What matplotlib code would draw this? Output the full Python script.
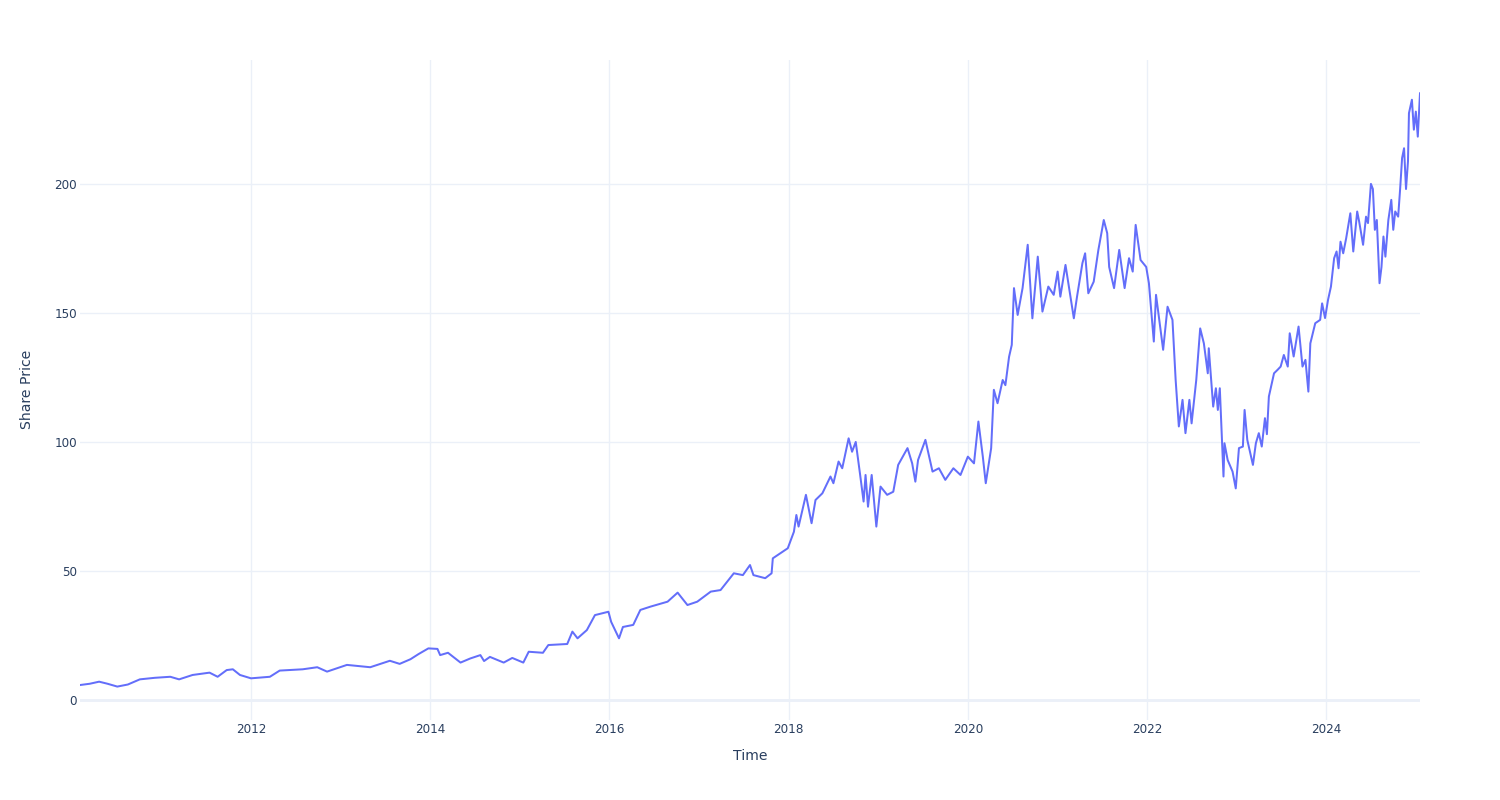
import matplotlib
matplotlib.use("Agg")
import matplotlib.pyplot as plt
import matplotlib.dates as mdates
import pandas as pd

dates = [
    "2010-02-03", "2010-03-15", "2010-04-22", "2010-05-26", "2010-07-05", "2010-08-17",
    "2010-10-05", "2010-12-05", "2011-02-06", "2011-03-14", "2011-05-08", "2011-07-16",
    "2011-08-18", "2011-09-24", "2011-10-19", "2011-11-17", "2012-01-01", "2012-03-18",
    "2012-04-27", "2012-07-30", "2012-09-27", "2012-11-06", "2013-01-26", "2013-05-01",
    "2013-07-20", "2013-08-29", "2013-10-12", "2013-11-14", "2013-12-24", "2014-01-30",
    "2014-02-10", "2014-03-14", "2014-05-04", "2014-06-13", "2014-07-24", "2014-08-08",
    "2014-09-01", "2014-10-27", "2014-12-01", "2015-01-15", "2015-02-06", "2015-04-05",
    "2015-04-27", "2015-07-13", "2015-08-03", "2015-08-24", "2015-10-01", "2015-11-03",
    "2015-12-28", "2016-01-08", "2016-02-09", "2016-02-25", "2016-04-07", "2016-05-06",
    "2016-06-17", "2016-08-25", "2016-10-05", "2016-11-14", "2016-12-24", "2017-02-17",
    "2017-03-29", "2017-05-22", "2017-06-28", "2017-07-27", "2017-08-10", "2017-09-27",
    "2017-10-23", "2017-10-28", "2017-11-28", "2017-12-28", "2018-01-22", "2018-02-01",
    "2018-02-10", "2018-03-12", "2018-04-04", "2018-04-20", "2018-05-18", "2018-06-20",
    "2018-07-02", "2018-07-23", "2018-08-07", "2018-09-02", "2018-09-16", "2018-10-01",
    "2018-10-19", "2018-11-02", "2018-11-10", "2018-11-20", "2018-12-05", "2018-12-24",
    "2019-01-10", "2019-02-06", "2019-03-03", "2019-03-23", "2019-04-30", "2019-05-19",
    "2019-06-01", "2019-06-12", "2019-07-12", "2019-08-10", "2019-09-05", "2019-10-01",
    "2019-11-03", "2019-12-02", "2020-01-01", "2020-01-26", "2020-02-13", "2020-03-02",
    "2020-03-14", "2020-04-05", "2020-04-16", "2020-05-01", "2020-05-22", "2020-06-02",
    "2020-06-17", "2020-06-28", "2020-07-07", "2020-07-22", "2020-08-11", "2020-09-01",
    "2020-09-20", "2020-10-12", "2020-10-31", "2020-11-24", "2020-12-16", "2021-01-01",
    "2021-01-12", "2021-02-02", "2021-03-08", "2021-03-21", "2021-04-12", "2021-04-23",
    "2021-05-06", "2021-05-28", "2021-06-16", "2021-07-08", "2021-07-22", "2021-07-30",
    "2021-08-19", "2021-09-09", "2021-10-01", "2021-10-19", "2021-11-03", "2021-11-15",
    "2021-12-05", "2021-12-28", "2022-01-08", "2022-01-28", "2022-02-06", "2022-02-23",
    "2022-03-07", "2022-03-25", "2022-04-14", "2022-04-27", "2022-05-10", "2022-05-25",
    "2022-06-06", "2022-06-22", "2022-07-01", "2022-07-20", "2022-08-05", "2022-08-20",
    "2022-09-05", "2022-09-09", "2022-09-27", "2022-10-08", "2022-10-16", "2022-10-24",
    "2022-11-01", "2022-11-08", "2022-11-12", "2022-11-25", "2022-12-15", "2022-12-28",
    "2023-01-10", "2023-01-26", "2023-02-02", "2023-02-13", "2023-03-08", "2023-03-20",
    "2023-04-01", "2023-04-13", "2023-04-26", "2023-05-04", "2023-05-12", "2023-06-02",
    "2023-06-17", "2023-06-29", "2023-07-12", "2023-07-28", "2023-08-05", "2023-08-21",
    "2023-09-10", "2023-09-26", "2023-10-08", "2023-10-20", "2023-10-28", "2023-11-17",
    "2023-12-07", "2023-12-15", "2023-12-27", "2024-01-08", "2024-01-20", "2024-02-02",
    "2024-02-12", "2024-02-20", "2024-02-28", "2024-03-10", "2024-03-22", "2024-04-08",
    "2024-04-20", "2024-05-06", "2024-05-14", "2024-05-30", "2024-06-11", "2024-06-19",
    "2024-07-01", "2024-07-09", "2024-07-17", "2024-07-25", "2024-08-05", "2024-08-13",
    "2024-08-21", "2024-08-29", "2024-09-10", "2024-09-22", "2024-09-30", "2024-10-08",
    "2024-10-20", "2024-10-28", "2024-11-05", "2024-11-13", "2024-11-21", "2024-11-29",
    "2024-12-03", "2024-12-15", "2024-12-23", "2024-12-31", "2025-01-08", "2025-01-17",
]

prices = [
    5.8, 6.3, 7.1, 6.3, 5.2, 6.0,
    8.0, 8.6, 9.0, 8.0, 9.7, 10.6,
    9.0, 11.6, 11.9, 9.7, 8.4, 9.0,
    11.4, 11.9, 12.7, 11.0, 13.6, 12.7,
    15.2, 14.0, 15.8, 17.8, 20.0, 19.8,
    17.4, 18.3, 14.5, 16.1, 17.4, 15.1,
    16.7, 14.5, 16.3, 14.5, 18.7, 18.3,
    21.3, 21.7, 26.5, 23.9, 27.1, 32.9,
    34.2, 30.3, 23.9, 28.3, 29.1, 34.9,
    36.2, 38.1, 41.6, 36.8, 38.1, 42.0,
    42.6, 49.1, 48.4, 52.3, 48.4, 47.2,
    49.1, 54.9, 56.9, 58.8, 65.2, 71.7,
    67.2, 79.5, 68.5, 77.5, 80.1, 86.6,
    84.0, 92.4, 89.8, 101.4, 96.2, 100.0,
    87.2, 76.9, 87.2, 74.9, 87.2, 67.2,
    82.7, 79.5, 80.7, 91.1, 97.6, 91.7,
    84.6, 93.0, 100.8, 88.5, 89.8, 85.3,
    89.8, 87.2, 94.3, 91.7, 107.9, 94.3,
    84.0, 97.6, 120.2, 115.0, 124.0, 122.0,
    133.0, 137.6, 159.6, 149.2, 159.6, 176.4,
    147.9, 171.8, 150.5, 160.2, 157.0, 166.0,
    156.3, 168.6, 147.9, 156.3, 169.3, 173.1,
    157.6, 162.1, 174.4, 186.0, 180.9, 167.8,
    159.6, 174.4, 159.6, 171.2, 166.0, 184.1,
    170.5, 167.8, 161.5, 138.9, 157.0, 144.7,
    135.7, 152.4, 147.3, 124.0, 106.0, 116.3,
    103.4, 116.3, 107.2, 124.0, 144.0, 138.2,
    126.6, 136.3, 113.7, 120.8, 112.4, 120.8,
    102.7, 86.6, 99.5, 93.0, 88.5, 82.0,
    97.6, 98.2, 112.4, 100.8, 91.1, 99.5,
    103.4, 98.2, 109.2, 103.0, 117.6, 126.6,
    128.0, 129.2, 133.7, 129.2, 142.1, 133.1,
    144.7, 129.2, 131.8, 119.5, 138.2, 146.0,
    147.3, 153.7, 148.0, 155.0, 160.2, 171.2,
    173.8, 167.3, 177.6, 173.1, 178.9, 188.6,
    173.8, 189.3, 185.4, 176.4, 187.3, 184.8,
    200.0, 198.0, 182.2, 186.0, 161.5, 167.8,
    179.6, 171.8, 186.0, 193.8, 182.2, 189.3,
    187.3, 198.0, 210.0, 213.8, 198.0, 208.7,
    227.4, 232.6, 221.0, 228.0, 218.3, 235.1,
]

x_tick_years = [2012, 2014, 2016, 2018, 2020, 2022, 2024]
y_ticks = [0, 50, 100, 150, 200]

x = pd.to_datetime(dates)

TXT = "#2a3f5f"
GRID = "#EBF0F8"
px = 72 / 100  # points per pixel at dpi 100

fig = plt.figure(figsize=(15, 8), dpi=100)
ax = fig.add_axes([80 / 1500, 80 / 800, 1340 / 1500, 660 / 800])

ax.plot(x, prices, color="#636EFA", linewidth=2 * px, zorder=3)

ax.set_xlim(x[0], x[-1])
ax.set_ylim(-7.75, 248)

ax.set_xticks([pd.Timestamp(f"{yr}-01-01") for yr in x_tick_years])
ax.xaxis.set_major_formatter(mdates.DateFormatter("%Y"))
ax.set_yticks(y_ticks)

ax.grid(True, color=GRID, linewidth=1, zorder=0)
ax.axhline(0, color=GRID, linewidth=2, zorder=1)
for s in ax.spines.values():
    s.set_visible(False)
ax.tick_params(axis="both", length=0, labelsize=12 * px, labelcolor=TXT)
ax.tick_params(axis="x", pad=3 * px)
ax.tick_params(axis="y", pad=3 * px)

fig.text(750 / 1500, 1 - 756 / 800, "Time", ha="center", va="center",
         fontsize=14 * px, color=TXT)
fig.text(27 / 1500, 1 - 389 / 800, "Share Price", ha="center", va="center",
         rotation=90, fontsize=14 * px, color=TXT)

fig.savefig("out.png", dpi=100, facecolor="white")
